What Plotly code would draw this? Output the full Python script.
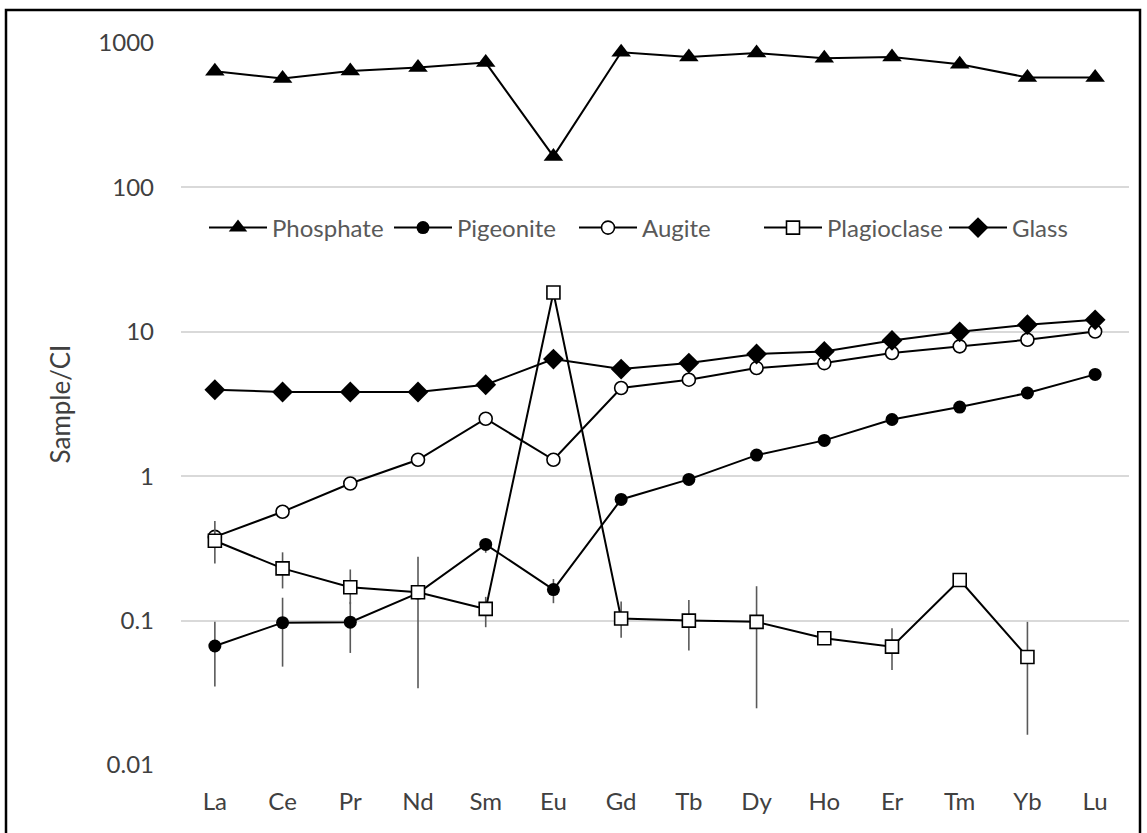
import plotly.graph_objects as go

elements = ["La", "Ce", "Pr", "Nd", "Sm", "Eu", "Gd", "Tb", "Dy", "Ho", "Er", "Tm", "Yb", "Lu"]

phosphate = [637, 568, 640, 676, 732, 164, 863, 800, 853, 783, 800, 713, 577, 577]
pigeonite = [0.0667, 0.0968, 0.0975, 0.155, 0.337, 0.164, 0.69, 0.95, 1.40, 1.77, 2.47, 3.01, 3.77, 5.07]
augite = [0.38, 0.567, 0.89, 1.30, 2.50, 1.30, 4.08, 4.66, 5.61, 6.07, 7.13, 7.93, 8.81, 10.05]
plagioclase = [0.357, 0.23, 0.170, 0.157, 0.1205, 18.7, 0.1035, 0.100, 0.098, 0.0755, 0.066, 0.191, 0.056, None]
glass = [3.97, 3.83, 3.83, 3.83, 4.30, 6.47, 5.52, 6.07, 7.02, 7.31, 8.71, 10.0, 11.2, 12.1]

# error bar limits (low, high); None = no error bar
pigeonite_lo = [0.0349, 0.048, 0.0597, 0.034, 0.295, 0.132, None, None, None, None, None, None, None, None]
pigeonite_hi = [0.098, 0.144, 0.135, 0.277, 0.361, 0.194, None, None, None, None, None, None, None, None]
augite_lo = [None, None, None, None, None, None, 3.75, None, None, None, None, None, None, None]
augite_hi = [None, None, None, None, None, None, 4.08, None, None, None, None, None, None, None]
plag_lo = [0.249, 0.167, 0.13, 0.157, 0.09, None, 0.076, 0.062, 0.0247, None, 0.0455, None, 0.0162, None]
plag_hi = [0.49, 0.297, 0.226, 0.157, 0.146, None, 0.1355, 0.139, 0.173, None, 0.0885, None, 0.098, None]

y_tickvals = [0.01, 0.1, 1, 10, 100, 1000]
y_ticktext = ["0.01", "0.1", "1", "10", "100", "1000"]


def err(vals, lo, hi):
    plus, minus = [], []
    for v, l, h in zip(vals, lo, hi):
        if v is None or l is None:
            plus.append(0)
            minus.append(0)
        else:
            plus.append(h - v)
            minus.append(v - l)
    return dict(type="data", symmetric=False, array=plus, arrayminus=minus,
                color="#595959", thickness=1.6, width=0, visible=True)


LINE = dict(color="black", width=2)
fig = go.Figure()
fig.add_trace(go.Scatter(x=elements, y=phosphate, name="Phosphate", mode="lines+markers",
                         line=LINE, marker=dict(symbol="triangle-up", size=17, color="black")))
fig.add_trace(go.Scatter(x=elements, y=pigeonite, name="Pigeonite", mode="lines+markers",
                         line=LINE, marker=dict(symbol="circle", size=13, color="black"),
                         error_y=err(pigeonite, pigeonite_lo, pigeonite_hi)))
fig.add_trace(go.Scatter(x=elements, y=augite, name="Augite", mode="lines+markers",
                         line=LINE, marker=dict(symbol="circle", size=13, color="white",
                                                line=dict(color="black", width=1.6)),
                         error_y=err(augite, augite_lo, augite_hi)))
fig.add_trace(go.Scatter(x=elements, y=plagioclase, name="Plagioclase", mode="lines+markers",
                         line=LINE, marker=dict(symbol="square", size=13, color="white",
                                                line=dict(color="black", width=1.6)),
                         error_y=err(plagioclase, plag_lo, plag_hi)))
fig.add_trace(go.Scatter(x=elements, y=glass, name="Glass", mode="lines+markers",
                         line=LINE, marker=dict(symbol="diamond", size=16, color="black")))

W, H = 1147, 833
L, R, T, B = 181, 18, 43, 68
pw, ph = W - L - R, H - T - B

fig.update_layout(
    width=W, height=H,
    margin=dict(l=L, r=R, t=T, b=B),
    paper_bgcolor="white", plot_bgcolor="white",
    font=dict(family="Lato, Open Sans, sans-serif", color="#404040"),
    legend=dict(orientation="h", x=(204 - L) / pw, xanchor="left", y=1 - (228 - T) / ph, yanchor="middle",
                font=dict(size=24, color="#595959"), bgcolor="rgba(0,0,0,0)",
                itemwidth=58, entrywidth=112, entrywidthmode="pixels", tracegroupgap=0),
    xaxis=dict(type="category", showgrid=False, zeroline=False, showline=False, ticks="",
               tickfont=dict(size=24, color="#404040"), range=[-0.5, 13.5], ticklabelstandoff=20),
    yaxis=dict(type="log", range=[-2, 3], tickvals=y_tickvals, ticktext=y_ticktext,
               showgrid=True, gridcolor="#d9d9d9", gridwidth=1.5, zeroline=False, showline=False,
               ticks="", tickfont=dict(size=24, color="#404040"), ticklabelstandoff=26,
               title=dict(text="Sample/CI", font=dict(size=26, color="#404040"), standoff=20)),
    shapes=[dict(type="rect", xref="paper", yref="paper",
                 x0=(6 - L) / pw, x1=(1140 - L) / pw,
                 y0=-(850 - (T + ph)) / ph, y1=1 + (T - 10) / ph,
                 line=dict(color="black", width=2.5), layer="below")],
)

fig.write_html("out.html", config={"displayModeBar": False},
               post_script="document.body.style.margin='0px';")
